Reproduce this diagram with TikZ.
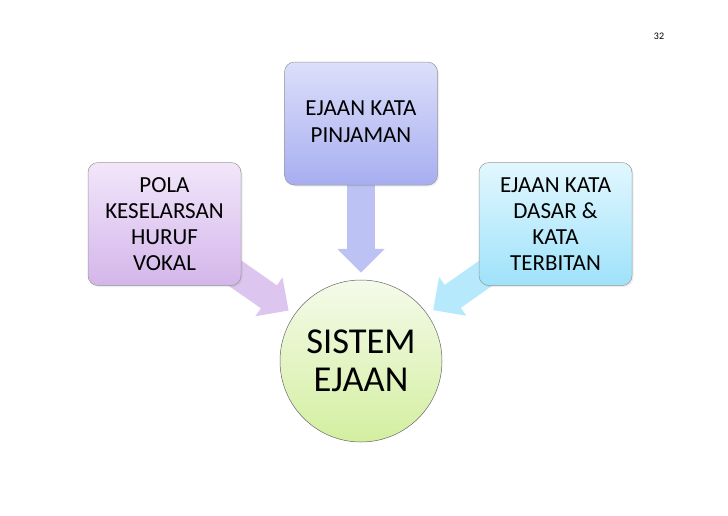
\documentclass[tikz,border=0pt]{standalone}
\usepackage{tikz}
\usetikzlibrary{arrows.meta, backgrounds, shadows}
\usepackage{fontspec}
\setmainfont{Carlito}
\usepackage{xcolor}
\definecolor{pinjtop}{HTML}{DCDFFA}
\definecolor{pinjbot}{HTML}{A7AEF0}
\definecolor{vokaltop}{HTML}{F2E6FA}
\definecolor{vokalbot}{HTML}{D3B6EA}
\definecolor{dasartop}{HTML}{E2F7FE}
\definecolor{dasarbot}{HTML}{9EE2FA}
\definecolor{sistemtop}{HTML}{F5FAEA}
\definecolor{sistembot}{HTML}{D3EFA0}

\begin{document}
\begin{tikzpicture}[x=1pt, y=-1pt,
	kotak/.style={rectangle, rounded corners=10pt, draw=black!40, line width=0.5pt, minimum width=153pt, minimum height=123pt, align=center, inner sep=0pt, font=\fontsize{23}{26}\selectfont, drop shadow={opacity=0.15, shadow xshift=1.5pt, shadow yshift=-1.5pt}},
	bulat/.style={circle, draw=black!60, line width=0.5pt, minimum size=162pt, inner sep=0pt, align=center, font=\fontsize{36.5}{38}\selectfont, top color=sistemtop, bottom color=sistembot},
	panah/.style={line width=28pt, -{Triangle[width=46pt, length=24pt]}, shorten >=7pt}]
	\useasboundingbox (0,0) rectangle (728,515);
	\node (halaman) at (659,36) {\fontsize{10}{12}\selectfont 32};
	\node [kotak, top color=pinjtop, bottom color=pinjbot] (pinjaman) at (361,123.5) {\raisebox{4pt}{\begin{tabular}{@{}c@{}}EJAAN KATA\\[1pt]PINJAMAN\end{tabular}}};
	\node [kotak, top color=vokaltop, bottom color=vokalbot] (vokal) at (164.5,224) {POLA\\KESELARSAN\\HURUF\\VOKAL};
	\node [kotak, top color=dasartop, bottom color=dasarbot] (dasar) at (555.5,224) {EJAAN KATA\\DASAR \&\\KATA\\TERBITAN};
	\node [bulat] (sistem) at (361,361) {SISTEM\\EJAAN};
	\begin{scope}[on background layer]
		\draw [panah, color=pinjbot!75] (pinjaman.center) -- (sistem);
		\draw [panah, color=vokalbot!80] (vokal.center) -- (sistem);
		\draw [panah, color=dasarbot!75] (dasar.center) -- (sistem);
	\end{scope}
\end{tikzpicture}
\end{document}
